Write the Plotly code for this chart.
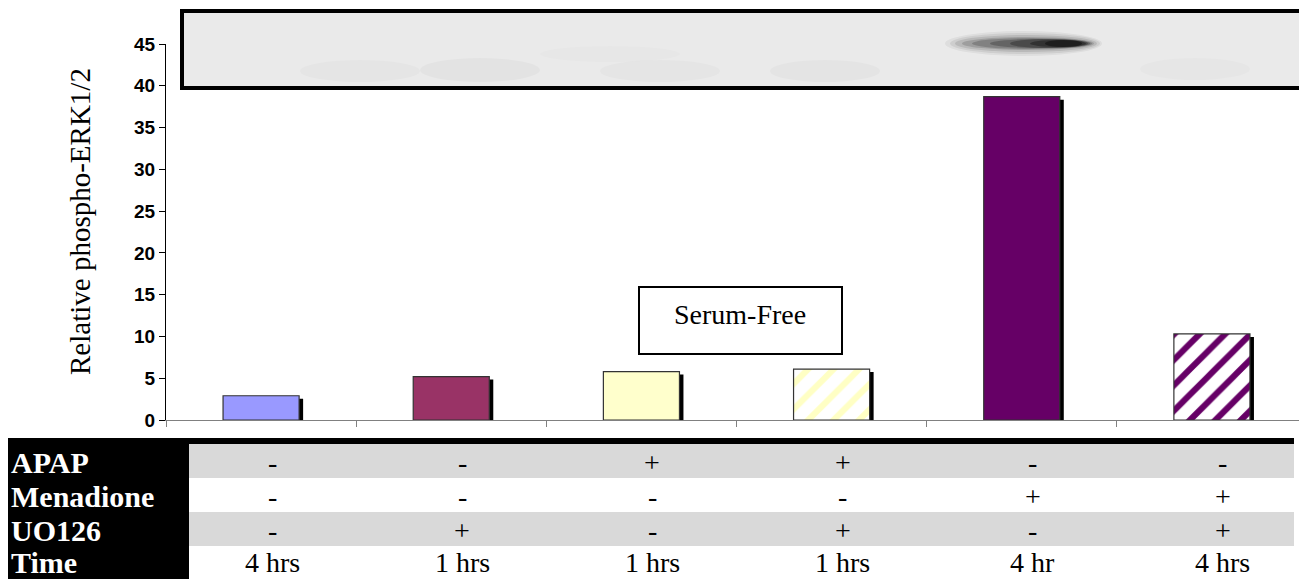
import plotly.graph_objects as go

# ---------------- data ----------------
lanes = ["Control", "UO126", "APAP", "APAP+UO126", "Menadione", "Menadione+UO126"]
values = [2.9, 5.2, 5.8, 6.1, 38.7, 10.3]
bar_colors = ["#9999ff", "#993366", "#ffffcc", "#ffffff", "#660066", "#ffffff"]
pattern_shapes = ["", "", "", "/", "", "/"]
pattern_fg = ["#000000", "#000000", "#000000", "#ffffc4", "#000000", "#660066"]

row_labels = ["APAP", "Menadione", "UO126", "Time"]
apap = ["-", "-", "+", "+", "-", "-"]
menadione = ["-", "-", "-", "-", "+", "+"]
uo126 = ["-", "+", "-", "+", "-", "+"]
times = ["4 hrs", "1 hrs", "1 hrs", "1 hrs", "4 hr", "4 hrs"]
table_rows = [apap, menadione, uo126, times]

y_ticks = [0, 5, 10, 15, 20, 25, 30, 35, 40, 45]

# ---------------- layout geometry ----------------
# the page body has an 8px margin, so the figure is drawn 8px right/down
OFF = 8
W, H = 1307 - OFF, 579 - OFF
PLOT_L, PLOT_T, PLOT_B, PLOT_R = 166, 44, 420, 1307   # screen pixels
L = PLOT_L - OFF
T = PLOT_T - OFF
B = H - (PLOT_B - OFF)
R = W - (PLOT_R - OFF)
PW = W - L - R
PH = H - T - B


def px(x):
    return (x - OFF - L) / PW


def py(y):
    return ((PLOT_B - OFF) - (y - OFF)) / PH


SERIF = "Liberation Serif, Times New Roman, serif"
SANS = "Liberation Sans, Arial, sans-serif"

fig = go.Figure()

# drop shadows (black, slightly right/down)
shadow_dx = 4 / (PW / 6)
shadow_dy = 3 / (PH / 45)
fig.add_trace(go.Bar(
    x=lanes, y=[v - shadow_dy for v in values],
    width=0.4, offset=-0.2 + shadow_dx,
    marker=dict(color="#000000", line=dict(width=0)),
    hoverinfo="skip", showlegend=False,
))
# main bars, one trace per lane so each pattern keeps its own colour
for lane, v, c, shp, fg in zip(lanes, values, bar_colors, pattern_shapes, pattern_fg):
    marker = dict(color=c, line=dict(color="#333333", width=1.2))
    if shp:
        marker["pattern"] = dict(shape=shp, fgcolor=fg, bgcolor=c,
                                 size=18, solidity=0.34, fillmode="replace")
    fig.add_trace(go.Bar(x=[lane], y=[v], width=0.4, offset=-0.2,
                         marker=marker, showlegend=False))

shapes = []
annotations = []

# ---- blot image (decorative) ----
shapes.append(dict(type="rect", xref="paper", yref="paper",
                   x0=px(182), x1=px(1306), y0=py(88), y1=py(11),
                   fillcolor="#eaeaea", line=dict(color="#000000", width=4),
                   layer="above"))
# very faint smudges at lanes
for (x0, x1, y0, y1, op) in [(300, 420, 60, 82, 0.018), (420, 540, 58, 82, 0.028),
                             (600, 720, 60, 82, 0.018), (770, 880, 60, 82, 0.022),
                             (1140, 1250, 58, 80, 0.015), (540, 680, 46, 62, 0.012)]:
    shapes.append(dict(type="circle", xref="paper", yref="paper",
                       x0=px(x0), x1=px(x1), y0=py(y1), y1=py(y0),
                       fillcolor="#000000", opacity=op, line=dict(width=0),
                       layer="above"))
# dark band (built up from many faint layers to look blurred)
band = [(945, 1102, 31, 56, 0.05), (950, 1100, 33, 54, 0.07), (955, 1097, 35, 52, 0.1),
        (962, 1094, 37, 50, 0.14), (972, 1092, 38, 49, 0.18), (990, 1090, 39, 48, 0.22),
        (1010, 1088, 39, 48, 0.26), (1030, 1086, 40, 47, 0.32), (1045, 1082, 40, 47, 0.4)]
for (x0, x1, y0, y1, op) in band:
    shapes.append(dict(type="circle", xref="paper", yref="paper",
                       x0=px(x0), x1=px(x1), y0=py(y1), y1=py(y0),
                       fillcolor="#000000", opacity=op, line=dict(width=0),
                       layer="above"))

# ---- Serum-Free box ----
shapes.append(dict(type="rect", xref="paper", yref="paper",
                   x0=px(639), x1=px(842), y0=py(354), y1=py(287),
                   fillcolor="#ffffff", line=dict(color="#000000", width=2),
                   layer="above"))
annotations.append(dict(xref="paper", yref="paper", x=px(740), y=py(314),
                        text="Serum-Free", showarrow=False,
                        font=dict(family=SERIF, size=28, color="#000000"),
                        xanchor="center", yanchor="middle"))

# ---- table below ----
shapes.append(dict(type="rect", xref="paper", yref="paper",
                   x0=px(7), x1=px(1294), y0=py(444), y1=py(438),
                   fillcolor="#000000", line=dict(width=0), layer="above"))
shapes.append(dict(type="rect", xref="paper", yref="paper",
                   x0=px(7), x1=px(189), y0=py(590), y1=py(438),
                   fillcolor="#000000", line=dict(width=0), layer="above"))
for (y0, y1) in [(444, 478), (512, 546)]:
    shapes.append(dict(type="rect", xref="paper", yref="paper",
                       x0=px(189), x1=px(1294), y0=py(y1), y1=py(y0),
                       fillcolor="#d9d9d9", line=dict(width=0), layer="above"))

row_centers = [462, 496, 530, 562]
cat_w = (PLOT_R - PLOT_L) / 6
for r, (lab, row) in enumerate(zip(row_labels, table_rows)):
    annotations.append(dict(xref="paper", yref="paper", x=px(9), y=py(row_centers[r]),
                            text="<b>%s</b>" % lab, showarrow=False,
                            font=dict(family=SERIF, size=30, color="#ffffff"),
                            xanchor="left", yanchor="middle"))
    for i, v in enumerate(row):
        annotations.append(dict(xref="paper", yref="paper",
                                x=px(PLOT_L + (i + 0.5) * cat_w + 11), y=py(row_centers[r]),
                                text=v, showarrow=False,
                                font=dict(family=SERIF, size=28, color="#000000"),
                                xanchor="center", yanchor="middle"))

# y-axis title
annotations.append(dict(xref="paper", yref="paper", x=px(80), y=py(222),
                        text="Relative phospho-ERK1/2", textangle=-90, showarrow=False,
                        font=dict(family=SERIF, size=29, color="#000000"),
                        xanchor="center", yanchor="middle"))

fig.update_layout(
    width=W, height=H,
    margin=dict(l=L, r=R, t=T, b=B, pad=0),
    paper_bgcolor="#ffffff", plot_bgcolor="#ffffff",
    barmode="overlay",
    shapes=shapes, annotations=annotations,
    xaxis=dict(type="category", categoryorder="array", categoryarray=lanes,
               showticklabels=False, ticks="outside", tickson="boundaries",
               ticklen=6, tickcolor="#808080", showline=True, linecolor="#808080",
               linewidth=1, showgrid=False, zeroline=False, fixedrange=True),
    yaxis=dict(range=[0, 45], tickvals=y_ticks, ticks="outside", ticklen=6,
               tickcolor="#000000", showline=True, linecolor="#000000", linewidth=1,
               showgrid=False, zeroline=False,
               tickfont=dict(family=SANS, size=19, color="#000000", weight="bold"),
               fixedrange=True),
)

fig.write_html("out.html", config={"displayModeBar": False})
